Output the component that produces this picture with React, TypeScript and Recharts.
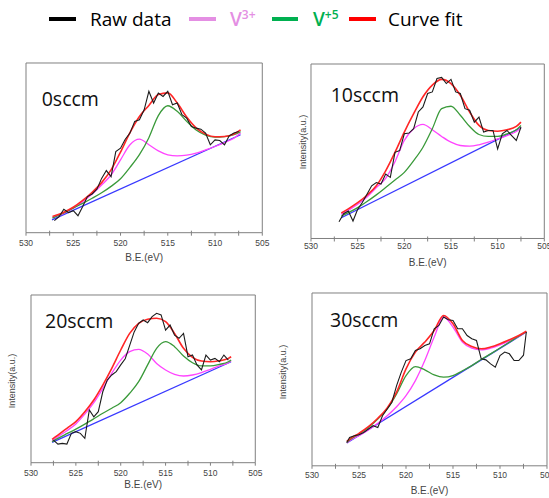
import React from 'react';
import { LineChart, Line, XAxis, YAxis, ReferenceArea } from 'recharts';

// ---- axis ticks ----
const TICKS = [505, 507.5, 510, 512.5, 515, 517.5, 520, 522.5, 525, 527.5, 530];
const TICK_LABELS = ['505', '', '510', '', '515', '', '520', '', '525', '', '530'];

// ---- raw-data energy grids (eV) ----
const RAW_EV_A = [527, 526.5, 526, 525.5, 525, 524.5, 524, 523.5, 523, 522.5, 522, 521.5, 521, 520.5, 520, 519.5, 519, 518.5, 518, 517.5, 517, 516.5, 516, 515.5, 515, 514.5, 514, 513.5, 513, 512.5, 512, 511.5, 511, 510.5, 510, 509.5, 509, 508.5, 508, 507.5];
const RAW_EV_B = [527.5, 527, 526.5, 526, 525.5, 525, 524.5, 524, 523.5, 523, 522.5, 522, 521.5, 521, 520.5, 520, 519.5, 519, 518.5, 518, 517.5, 517, 516.5, 516, 515.5, 515, 514.5, 514, 513.5, 513, 512.5, 512, 511.5, 511, 510.5, 510, 509.5, 509, 508.5, 508];
const RAW_EV_C = [526.3, 526, 525.5, 525, 524.5, 524, 523.5, 523, 522.5, 522, 521.5, 521, 520.5, 520, 519.5, 519, 518.5, 518, 517.5, 517, 516.5, 516, 515.5, 515, 514.5, 514, 513.5, 513, 512.5, 512, 511.5, 511, 510.5, 510, 509.5, 509, 508.5, 508, 507.5, 507.2];

// ---- 0 sccm ----
const FIT_EV_0 = [527.2, 526, 525, 524, 523, 522, 521, 520, 519, 518, 517, 516, 515, 514, 513, 512, 511, 510, 509, 508, 507.3];
const V3_0 = [8.9, 11.4, 14.4, 18.3, 22.8, 28.1, 34, 42.9, 51.8, 55.1, 51.8, 48.2, 45.9, 45.3, 45.7, 46.9, 48.8, 50.8, 53.1, 55.7, 58.7];
const V5_0 = [8.6, 11.6, 14.5, 17.3, 20.3, 23.5, 27.3, 31.8, 38.5, 46, 56, 69, 74.8, 71.5, 65.6, 60.5, 57.5, 56.3, 56.6, 57.8, 59.6];
const FIT_0 = [9.6, 12.1, 15, 19, 23.8, 29.5, 37, 47.5, 59, 68.5, 75, 81.4, 82.4, 76.4, 68.2, 61.8, 58.1, 56.5, 56.7, 58.2, 60.6];
const BG_EV_0 = [527.25, 507.3];
const BG_0 = [7.5, 57.7];
const RAW_0 = [7.1, 9.4, 13.8, 11.8, 13, 10, 15.4, 21.3, 22.8, 25.6, 32, 36.6, 33, 47.8, 49.8, 55.1, 58.7, 65.6, 66.5, 72.4, 83.3, 76.4, 82.3, 80.3, 83.3, 75.4, 76.4, 69.5, 67.5, 62.6, 61.6, 61, 58.7, 51.8, 54.7, 54.3, 51.8, 57.1, 58.7, 59.6];

// ---- 10 sccm ----
const FIT_EV_1 = [526.75, 526, 525, 524, 523, 522, 521, 520, 519, 518, 517, 516, 515, 514, 513, 512, 511, 510, 509, 508, 507.5];
const V3_1 = [13.8, 16.2, 19.6, 23.8, 29.2, 34.5, 44, 56.2, 62.9, 65.4, 62.3, 58.5, 55.2, 53.3, 52.9, 53.7, 55.2, 57.1, 59, 61.3, 63.5];
const V5_1 = [12.9, 14.8, 17.7, 21.2, 25, 29.2, 33.5, 37.9, 44.6, 52.3, 62.9, 74.4, 75.8, 70.6, 64.2, 59.6, 58.5, 58.5, 60, 62.3, 64.8];
const FIT_1 = [14.6, 17, 20.5, 24.8, 30.2, 38.8, 49.4, 61, 71.5, 81.2, 87.9, 91.2, 88.8, 82.1, 72.5, 64.8, 61.9, 61.5, 62.3, 64.2, 66.7];
const BG_EV_1 = [526.75, 507.5];
const BG_1 = [11.9, 63.5];
const RAW_1 = [9.6, 14.2, 15.8, 10, 16.7, 20.6, 25.4, 30.2, 32.1, 31.2, 36.9, 35, 49.4, 50.4, 60, 60.4, 62.9, 72.5, 75.4, 83.1, 84, 91.7, 92.3, 88.8, 91.2, 84, 83.1, 74.4, 73.5, 66.7, 69.6, 61, 61.9, 61.9, 51.3, 60, 61.9, 59, 56.2, 63.8];

// ---- 20 sccm ----
const FIT_EV_2 = [527.65, 527, 526, 525, 524, 523, 522, 521, 520, 519, 518, 517, 516, 515, 514, 513, 512, 511, 510, 509, 508, 507.7];
const V3_2 = [13.1, 15.5, 19.1, 23.1, 29, 35.8, 44.3, 53.3, 61.2, 66.2, 67.6, 64.8, 59.2, 55.3, 52.7, 51.7, 52.3, 53.7, 55.7, 57.7, 59.6, 60.6];
const V5_2 = [12.5, 14.5, 17.3, 20, 23, 26.2, 29.5, 32.5, 35.8, 41.4, 48.3, 58.3, 68.2, 72.2, 69.2, 63.6, 59.6, 57.7, 57.7, 58.6, 60.2, 61.2];
const FIT_2 = [13.9, 16.5, 20.5, 24.5, 30.4, 37.4, 46.3, 56.3, 67.2, 77.1, 83.1, 85.5, 86.1, 84.1, 77.1, 68.2, 62.8, 60.6, 60.2, 60.8, 62.2, 63.2];
const BG_EV_2 = [527.65, 507.7];
const BG_2 = [12.1, 60.2];
const RAW_2 = [13.5, 11.1, 11.5, 11.1, 17.5, 18.5, 17.5, 14.5, 31.4, 27.4, 30.4, 42.3, 49.3, 52.3, 54.3, 58.3, 62, 70, 78, 83.1, 85.1, 83.5, 87.1, 89.1, 88.1, 79.1, 82.1, 76.1, 74.2, 77.1, 63.2, 64.2, 58.3, 55.3, 64.2, 61.2, 62.2, 60.2, 64.2, 61.2];

// ---- 30 sccm ----
const FIT_EV_3 = [526.3, 526, 525, 524, 523, 522, 521, 520, 519, 518, 517, 516, 515, 514, 513, 512, 511, 510, 509, 508, 507.2];
const V3_3 = [13.2, 14.5, 17.4, 20.7, 24.6, 29, 34.2, 40.6, 49.3, 60.9, 74.5, 86.1, 80.3, 71.6, 68.1, 67.1, 68.1, 70, 72.3, 74.9, 77.4];
const V5_3 = [13.5, 14.9, 18.4, 22.2, 27.1, 32.9, 41.6, 52.2, 57.4, 55.5, 52.6, 51.3, 52.2, 55, 58, 61.5, 64.8, 68.2, 71.6, 75, 77.6];
const FIT_3 = [14.1, 15.5, 18.8, 22.6, 27.5, 33.5, 42.6, 56.1, 65.8, 71.6, 78.3, 87, 82.2, 72.5, 69.1, 67.7, 68.7, 70.6, 72.9, 75.4, 77.9];
const BG_EV_3 = [526.3, 507.2];
const BG_3 = [13.2, 77.4];
const RAW_3 = [13.5, 16.4, 17.4, 18, 19.3, 21.3, 23.2, 22.2, 29, 32.9, 36.8, 46.4, 54.2, 60.9, 61.9, 66.7, 67.7, 69.6, 70.6, 79.3, 81.2, 86.1, 84.5, 84.1, 79.3, 79.3, 75.4, 73.5, 72.5, 61.9, 61.3, 59, 57.1, 63.8, 65.8, 64.8, 60.9, 60.9, 64, 77.4];

const PANEL_NAMES = ['0sccm', '10sccm', '20sccm', '30sccm'];

const zip = (xs: number[], ys: number[]) => xs.map((x, i) => ({ x, y: ys[i] }));

const C_RAW = '#1c1c1c';
const C_V3 = '#ff45ff';
const C_V5 = '#3a9a3a';
const C_FIT = '#ff2626';
const C_BG = '#3838ff';
const C_AXIS = '#7f7f7f';
const C_TEXT = '#444';
const AXIS_FONT = '"Liberation Sans", Arial, sans-serif';

type Box = { x: number; y: number; w: number; h: number };

const makeTick = (gap: number) => (props: any) => {
  const { x, y, payload } = props;
  const idx = TICKS.indexOf(payload.value);
  const lbl = TICK_LABELS[idx];
  return (
    <g>
      <line x1={x} x2={x} y1={lbl ? y : y - 2} y2={y + 3} stroke={C_AXIS} strokeWidth={1} />
      {lbl ? (
        <text x={x} y={y + gap} textAnchor="middle" dominantBaseline="central" fontSize={8.5} fill={C_TEXT} fontFamily={AXIS_FONT}>
          {lbl}
        </text>
      ) : null}
    </g>
  );
};

const SIDE = 14;

function Panel(p: {
  box: Box; tickGap: number; titleGap: number;
  bg: any[]; v3: any[]; v5: any[]; fit: any[]; raw: any[];
}) {
  const XH = 40;
  const { box } = p;
  return (
    <div style={{ position: 'absolute', left: box.x - SIDE, top: box.y - 2 }}>
      <LineChart width={box.w + 2 * SIDE} height={box.h + XH + 4} margin={{ top: 2, right: SIDE, bottom: 2, left: SIDE }}>
        <XAxis
          type="number"
          dataKey="x"
          domain={[505, 530]}
          reversed
          allowDataOverflow
          ticks={TICKS}
          interval={0}
          height={XH}
          tickSize={0}
          tickMargin={0}
          axisLine={false}
          tickLine={false}
          tick={makeTick(p.tickGap)}
          label={{ value: 'B.E.(eV)', position: 'insideTop', offset: p.titleGap - 3.5, fill: C_TEXT, fontSize: 10, fontFamily: AXIS_FONT }}
        />
        <YAxis type="number" domain={[0, 100]} allowDataOverflow hide />
        <ReferenceArea x1={505} x2={530} y1={0} y2={100} fill="none" fillOpacity={0} stroke={C_AXIS} strokeWidth={1} ifOverflow="visible" />
        <Line data={p.bg} dataKey="y" type="linear" stroke={C_BG} strokeWidth={1.3} dot={false} isAnimationActive={false} />
        <Line data={p.v3} dataKey="y" type="monotone" stroke={C_V3} strokeWidth={1.3} dot={false} isAnimationActive={false} />
        <Line data={p.v5} dataKey="y" type="monotone" stroke={C_V5} strokeWidth={1.3} dot={false} isAnimationActive={false} />
        <Line data={p.fit} dataKey="y" type="monotone" stroke={C_FIT} strokeWidth={1.6} dot={false} isAnimationActive={false} />
        <Line data={p.raw} dataKey="y" type="linear" stroke={C_RAW} strokeWidth={1.1} dot={false} isAnimationActive={false} />
      </LineChart>
    </div>
  );
}

const PANELS = [
  { box: { x: 25.7, y: 63.3, w: 236.3, h: 169.7 }, tickGap: 10, titleGap: 25, bg: zip(BG_EV_0, BG_0), v3: zip(FIT_EV_0, V3_0), v5: zip(FIT_EV_0, V5_0), fit: zip(FIT_EV_0, FIT_0), raw: zip(RAW_EV_A, RAW_0) },
  { box: { x: 310.7, y: 64, w: 233.3, h: 174.5 }, tickGap: 8, titleGap: 23.5, bg: zip(BG_EV_1, BG_1), v3: zip(FIT_EV_1, V3_1), v5: zip(FIT_EV_1, V5_1), fit: zip(FIT_EV_1, FIT_1), raw: zip(RAW_EV_A, RAW_1) },
  { box: { x: 30.7, y: 295, w: 224.3, h: 167.7 }, tickGap: 10, titleGap: 21.5, bg: zip(BG_EV_2, BG_2), v3: zip(FIT_EV_2, V3_2), v5: zip(FIT_EV_2, V5_2), fit: zip(FIT_EV_2, FIT_2), raw: zip(RAW_EV_B, RAW_2) },
  { box: { x: 311.7, y: 292.7, w: 235, h: 172.8 }, tickGap: 9.5, titleGap: 24.5, bg: zip(BG_EV_3, BG_3), v3: zip(FIT_EV_3, V3_3), v5: zip(FIT_EV_3, V5_3), fit: zip(FIT_EV_3, FIT_3), raw: zip(RAW_EV_C, RAW_3) },
];

const NAME_POS = [
  { x: 41.7, y: 106 },
  { x: 330.7, y: 101.7 },
  { x: 45, y: 327.7 },
  { x: 330, y: 326.7 },
];
const YLABEL_POS = [null, { x: 303, y: 142 }, { x: 12, y: 381 }, { x: 283, y: 372 }];

const LEGEND_FONT = '"Open Sans", "Noto Sans", sans-serif';

export default function App() {
  return (
    <div style={{ position: 'absolute', left: 0, top: 0, width: 549, height: 498, background: '#fff', overflow: 'hidden' }}>
      {PANELS.map((p, i) => (
        <Panel key={i} {...p} />
      ))}
      <svg width={549} height={498} style={{ position: 'absolute', left: 0, top: 0, pointerEvents: 'none' }}>
        {/* legend */}
        <line x1={49} x2={76} y1={19} y2={19} stroke="#000" strokeWidth={4} />
        <text x={90} y={26} fontSize={19} fontFamily={LEGEND_FONT} fill="#000">Raw data</text>
        <line x1={189} x2={216} y1={19} y2={19} stroke="#e48fe3" strokeWidth={4} />
        <text x={230} y={26} fontSize={19} fontFamily={LEGEND_FONT} fill="#e48fe3" fontWeight={600}>
          V<tspan fontSize={12} dy={-7}>3+</tspan>
        </text>
        <line x1={272} x2={298} y1={19} y2={19} stroke="#00b050" strokeWidth={4} />
        <text x={313} y={26} fontSize={19} fontFamily={LEGEND_FONT} fill="#00b050" fontWeight={600}>
          V<tspan fontSize={12} dy={-7}>+5</tspan>
        </text>
        <line x1={349} x2={376} y1={19} y2={19} stroke="#ff0000" strokeWidth={4} />
        <text x={388} y={26} fontSize={19} fontFamily={LEGEND_FONT} fill="#000">Curve fit</text>

        {/* panel names */}
        {PANEL_NAMES.map((n, i) => (
          <text key={n} x={NAME_POS[i].x} y={NAME_POS[i].y} fontSize={19.5} fontFamily={LEGEND_FONT} fill="#111">{n}</text>
        ))}

        {/* y-axis titles */}
        {YLABEL_POS.map((pos, i) =>
          pos ? (
            <text key={i} x={pos.x} y={pos.y} transform={`rotate(-90 ${pos.x} ${pos.y})`} textAnchor="middle" dominantBaseline="central" fontSize={9} fill={C_TEXT} fontFamily={AXIS_FONT}>
              Intensity(a.u.)
            </text>
          ) : null
        )}
      </svg>
    </div>
  );
}
